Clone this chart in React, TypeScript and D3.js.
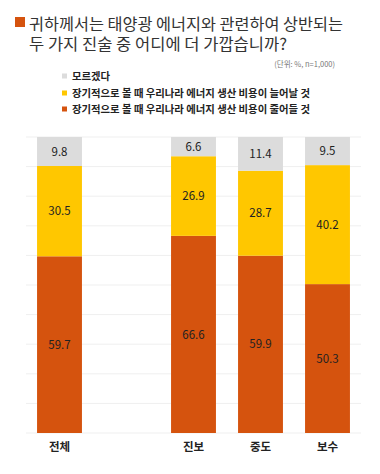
import React from "react";
import * as d3 from "d3";

const categories = ["전체", "", "진보", "중도", "보수"];
const decrease = [59.7, null, 66.6, 59.9, 50.3];
const increase = [30.5, null, 26.9, 28.7, 40.2];
const dontKnow = [9.8, null, 6.6, 11.4, 9.5];
const seriesNames = ["모르겠다", "장기적으로 볼 때 우리나라 에너지 생산 비용이 늘어날 것", "장기적으로 볼 때 우리나라 에너지 생산 비용이 줄어들 것"];
const titleLines = ["귀하께서는 태양광 에너지와 관련하여 상반되는", "두 가지 진술 중 어디에 더 가깝습니까?"];
const unitNote = "(단위: %, n=1,000)";
const gridTicks = [0, 10, 20, 30, 40, 50, 60, 70, 80, 90, 100];

const ORANGE = "#d5530e";
const YELLOW = "#ffc700";
const GREY = "#dcdcdc";
const FONT = "'Noto Sans CJK KR', 'Noto Sans', sans-serif";

export default function App() {
  const W = 380, H = 474;
  const x = d3.scaleBand<string>().domain(categories.map((c, i) => i + "")).range([26, 361]).paddingInner(0.33).paddingOuter(0.165);
  const y = d3.scaleLinear().domain([0, 100]).range([433, 137]);

  const bars: JSX.Element[] = [];
  categories.forEach((c, i) => {
    const d = decrease[i], inc = increase[i], dk = dontKnow[i];
    if (d == null || inc == null || dk == null) return;
    const segs = [
      { v0: 0, v1: d, color: ORANGE, val: d },
      { v0: d, v1: d + inc, color: YELLOW, val: inc },
      { v0: d + inc, v1: 100, color: GREY, val: dk },
    ];
    const bx = x(i + "")!;
    const bw = x.bandwidth();
    segs.forEach((s, j) => {
      bars.push(
        <rect key={`r${i}-${j}`} x={bx} width={bw} y={y(s.v1)} height={y(s.v0) - y(s.v1)} fill={s.color} />
      );
      bars.push(
        <text key={`t${i}-${j}`} x={bx + bw / 2} y={(y(s.v0) + y(s.v1)) / 2} dy="0.36em" textAnchor="middle" fontSize={11.5} fill="#222" fontFamily={FONT}>
          {s.val.toFixed(1)}
        </text>
      );
    });
  });

  const legendColors = [GREY, YELLOW, ORANGE];
  const legendY = [76, 93, 109];
  const legendLen = [38, 238, 238];

  return (
    <svg width={W} height={H} style={{ position: "absolute", left: 0, top: 0, background: "#fff" }}>
      <rect x={0} y={0} width={W} height={H} fill="#fff" />
      <rect x={15} y={17} width={10} height={10} fill={ORANGE} />
      <text x={29} y={30} fontSize={16} fill="#333" fontFamily={FONT} textLength={314} lengthAdjust="spacingAndGlyphs">{titleLines[0]}</text>
      <text x={29} y={50} fontSize={16} fill="#333" fontFamily={FONT} textLength={258} lengthAdjust="spacingAndGlyphs">{titleLines[1]}</text>
      <text x={335} y={67} fontSize={7.5} fill="#777" textAnchor="end" fontFamily={FONT}>{unitNote}</text>
      {seriesNames.map((n, i) => (
        <g key={n}>
          <rect x={62} y={legendY[i] - 2.5} width={5} height={5} fill={legendColors[i]} />
          <text x={72} y={legendY[i]} dy="0.36em" fontSize={10.5} fontWeight={700} fill="#222" fontFamily={FONT} textLength={legendLen[i]} lengthAdjust="spacingAndGlyphs">{n}</text>
        </g>
      ))}
      {gridTicks.map((t) => (
        <line key={t} x1={26} x2={361} y1={y(t)} y2={y(t)} stroke="#efefef" strokeWidth={1} />
      ))}
      {bars}
      {categories.map((c, i) => (
        <text key={"c" + i} x={x(i + "")! + x.bandwidth() / 2} y={447} dy="0.36em" textAnchor="middle" fontSize={11.5} fontWeight={700} fill="#222" fontFamily={FONT}>{c}</text>
      ))}
    </svg>
  );
}
